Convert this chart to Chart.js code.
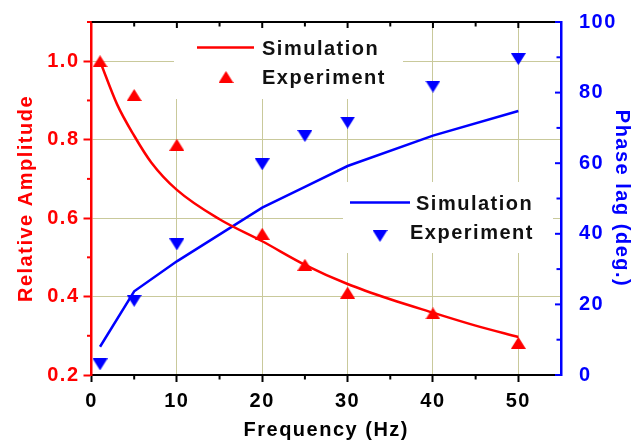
<!DOCTYPE html>
<html><head><meta charset="utf-8">
<script src="https://cdn.jsdelivr.net/npm/chart.js@4"></script>
<style>html,body{margin:0;padding:0;background:#fff;overflow:hidden}</style>
</head><body>
<canvas id="c" width="634" height="444" style="display:block;width:634px;height:444px"></canvas>
<script>
// ---- data ----
const freqSim = [1, 3, 5, 7, 10, 15, 20, 25, 30, 35, 40, 45, 50];
const ampSim = [1.0, 0.89, 0.81, 0.742, 0.672, 0.597, 0.541, 0.481, 0.432, 0.393, 0.359, 0.326, 0.297];
const freqExp = [1, 5, 10, 20, 25, 30, 40, 50];
const ampExp = [1.0, 0.914, 0.787, 0.56, 0.481, 0.41, 0.357, 0.282];
const freqPhaseSim = [1, 5, 10, 20, 25, 30, 40, 50];
const phaseSim = [8, 23.7, 32.2, 47.4, 53.3, 59.2, 67.8, 74.8];
const phaseExp = [3, 21, 37, 59.7, 67.7, 71.5, 81.7, 89.5];
const freqTicks = [0, 10, 20, 30, 40, 50];
const ampTicks = [0.2, 0.4, 0.6, 0.8, 1.0];
const phaseTicks = [0, 20, 40, 60, 80, 100];
const seriesLabels = ['Simulation', 'Experiment'];
const xTitle = 'Frequency (Hz)';
const yTitle = 'Relative Amplitude';
const y1Title = 'Phase lag (deg.)';

// ---- styles ----
const RED = '#ff0000', BLUE = '#0000ff', GRID = '#c9c99b', BLACK = '#000000';
const FAM = '"Liberation Sans", Arial, sans-serif';
function tri(color, down) {
  const w = 15, h = 12;
  const c = document.createElement('canvas'); c.width = w; c.height = h;
  const g = c.getContext('2d'); g.fillStyle = color; g.beginPath();
  if (down) { g.moveTo(0, 0); g.lineTo(w, 0); g.lineTo(w / 2, h); }
  else { g.moveTo(w / 2, 0); g.lineTo(w, h); g.lineTo(0, h); }
  g.closePath(); g.fill(); return c;
}
const triUp = tri(RED, false), triDown = tri(BLUE, true);
const pts = (xs, ys) => xs.map((x, i) => ({ x: x, y: ys[i] }));

const decor = {
  id: 'decor',
  beforeDraw(chart) { chart.ctx.letterSpacing = '1.5px'; },
  beforeDatasetsDraw(chart) {
    const ctx = chart.ctx, a = chart.chartArea;
    ctx.save(); ctx.fillStyle = '#ffffff';
    ctx.fillRect(174, a.top + 1, 229, 99 - a.top - 1);
    ctx.fillRect(343, 182, 210, 71);
    ctx.restore();
  },
  afterDatasetsDraw(chart) {
    const ctx = chart.ctx, a = chart.chartArea;
    const x = chart.scales.x, y = chart.scales.y, y1 = chart.scales.y1;
    ctx.save();
    ctx.lineCap = 'butt';
    // top axis line
    ctx.strokeStyle = BLACK; ctx.lineWidth = 2;
    ctx.beginPath(); ctx.moveTo(a.left, a.top); ctx.lineTo(a.right, a.top); ctx.stroke();
    // top ticks (inward) and bottom minor ticks (outward)
    for (let v = 5; v <= 50; v += 5) {
      const px = x.getPixelForValue(v);
      const major = v % 10 === 0;
      ctx.beginPath(); ctx.moveTo(px, a.top); ctx.lineTo(px, a.top + (major ? 6 : 4.5)); ctx.stroke();
      if (!major) { ctx.beginPath(); ctx.moveTo(px, a.bottom); ctx.lineTo(px, a.bottom + 4.5); ctx.stroke(); }
    }
    // left minor ticks (outward)
    ctx.strokeStyle = RED;
    for (let v = 0.3; v < 1.1; v += 0.2) {
      const py = y.getPixelForValue(v);
      ctx.beginPath(); ctx.moveTo(a.left, py); ctx.lineTo(a.left - 4.5, py); ctx.stroke();
    }
    // right ticks (inward)
    ctx.strokeStyle = BLUE;
    for (let v = 0; v <= 100; v += 10) {
      const py = y1.getPixelForValue(v);
      const major = v % 20 === 0;
      ctx.beginPath(); ctx.moveTo(a.right, py); ctx.lineTo(a.right - (major ? 6 : 4.5), py); ctx.stroke();
    }
    // legends
    ctx.font = 'bold 20px ' + FAM; ctx.textBaseline = 'middle'; ctx.textAlign = 'left';
    ctx.fillStyle = '#111111';
    ctx.strokeStyle = RED; ctx.lineWidth = 2.5;
    ctx.beginPath(); ctx.moveTo(197, 47.5); ctx.lineTo(254, 47.5); ctx.stroke();
    ctx.fillText(seriesLabels[0], 262, 49);
    ctx.drawImage(triUp, 226 - 7.5, 77 - 6);
    ctx.fillText(seriesLabels[1], 262, 78);
    ctx.strokeStyle = BLUE;
    ctx.beginPath(); ctx.moveTo(350, 202.5); ctx.lineTo(410, 202.5); ctx.stroke();
    ctx.fillText(seriesLabels[0], 416, 204);
    ctx.drawImage(triDown, 380 - 7.5, 236 - 6);
    ctx.fillText(seriesLabels[1], 410, 233);
    ctx.restore();
  }
};

Chart.defaults.font.family = FAM;
Chart.defaults.font.weight = 'bold';
Chart.defaults.font.size = 20;

new Chart(document.getElementById('c'), {
  type: 'scatter',
  data: {
    datasets: [
      { label: seriesLabels[0], data: pts(freqSim, ampSim), yAxisID: 'y', showLine: true,
        borderColor: RED, borderWidth: 2.5, pointRadius: 0, cubicInterpolationMode: 'monotone', clip: false },
      { label: seriesLabels[1], data: pts(freqExp, ampExp), yAxisID: 'y', showLine: false,
        pointStyle: triUp, pointRadius: 8, clip: false },
      { label: seriesLabels[0], data: pts(freqPhaseSim, phaseSim), yAxisID: 'y1', showLine: true,
        borderColor: BLUE, borderWidth: 2.5, pointRadius: 0, tension: 0, clip: false },
      { label: seriesLabels[1], data: pts(freqExp, phaseExp), yAxisID: 'y1', showLine: false,
        pointStyle: triDown, pointRadius: 8, clip: false }
    ]
  },
  options: {
    responsive: false, animation: false, devicePixelRatio: 1,
    layout: { padding: { top: 20, left: 0, right: 0, bottom: 0 } },
    plugins: { legend: { display: false }, tooltip: { enabled: false } },
    scales: {
      x: {
        type: 'linear', position: 'bottom', min: 0, max: 55,
        afterBuildTicks: s => { s.ticks = freqTicks.map(v => ({ value: v })); },
        afterFit: s => { s.height = 69; },
        grid: { color: c => (c.tick && c.tick.value === 0) ? 'rgba(0,0,0,0)' : GRID, lineWidth: 1,
                tickColor: BLACK, tickLength: 7, tickWidth: 2 },
        border: { color: BLACK, width: 2 },
        ticks: { color: BLACK, padding: 7, maxRotation: 0, font: { size: 20, weight: 'bold' } },
        title: { display: true, text: xTitle, color: BLACK, font: { size: 20, weight: 'bold' }, padding: { top: 0, bottom: 2 } }
      },
      y: {
        type: 'linear', position: 'left', min: 0.2, max: 1.1,
        afterBuildTicks: s => { s.ticks = ampTicks.map(v => ({ value: v })); },
        afterFit: s => { s.width = 91.5; },
        grid: { color: c => (c.tick && Math.abs(c.tick.value - 0.2) < 1e-9) ? 'rgba(0,0,0,0)' : GRID, lineWidth: 1,
                tickColor: RED, tickLength: 8, tickWidth: 2 },
        border: { color: RED, width: 2.5 },
        ticks: { color: RED, padding: 4, callback: v => Number(v).toFixed(1), font: { size: 20, weight: 'bold' } },
        title: { display: true, text: yTitle, color: RED, font: { size: 20, weight: 'bold' }, padding: { top: 14, bottom: 0 } }
      },
      y1: {
        type: 'linear', position: 'right', min: 0, max: 100,
        afterBuildTicks: s => { s.ticks = phaseTicks.map(v => ({ value: v })); },
        afterFit: s => { s.width = 73; },
        grid: { display: false, drawOnChartArea: false },
        border: { color: BLUE, width: 2.5 },
        ticks: { color: BLUE, padding: 10, font: { size: 20, weight: 'bold' } },
        title: { display: true, text: y1Title, color: BLUE, font: { size: 20, weight: 'bold' }, padding: { top: 0, bottom: 0 } }
      }
    }
  },
  plugins: [decor]
});
</script>
</body></html>
